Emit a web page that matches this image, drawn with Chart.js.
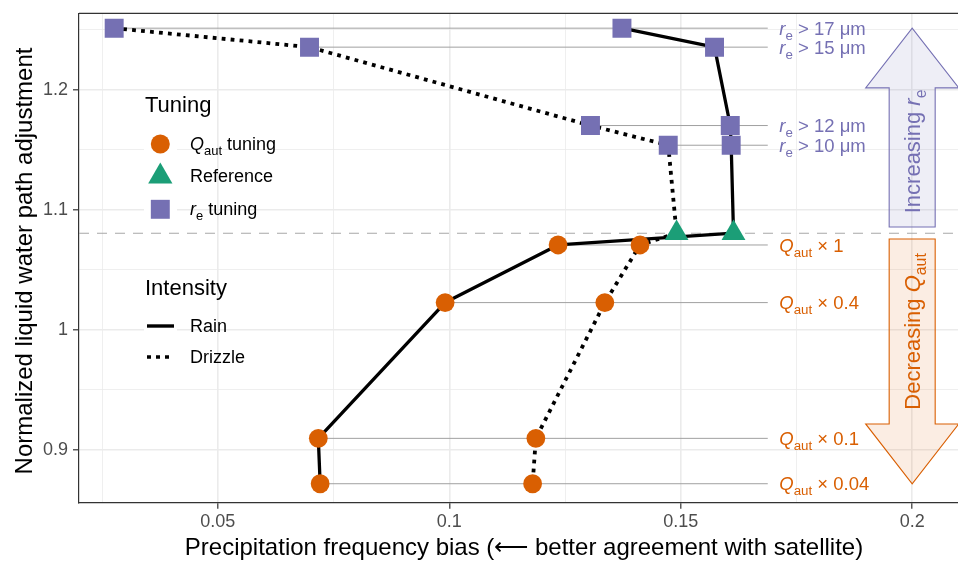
<!DOCTYPE html>
<html>
<head>
<meta charset="utf-8">
<title>Tuning: LWP adjustment vs precipitation frequency bias</title>
<script src="https://cdn.jsdelivr.net/npm/chart.js@4.4.1/dist/chart.umd.min.js"></script>
<style>
  html, body { margin: 0; padding: 0; background: #fff; }
  canvas { display: block; }
</style>
</head>
<body>
<canvas id="tuningChart" width="958" height="561"></canvas>
<script>
// values
// r_e tuning (squares), threshold in µm
const reThresholds = ["17", "15", "12", "10"];
const reY          = [1.2514, 1.2356, 1.1703, 1.1539];
const reRainX      = [0.1373, 0.1573, 0.1607, 0.1609];
const reDrizzleX   = [0.0276, 0.0698, 0.1305, 0.1473];

// Q_aut tuning (circles), multiplier
const qFactors     = ["1", "0.4", "0.1", "0.04"];
const qY           = [1.0708, 1.0228, 0.9097, 0.8719];
const qRainX       = [0.1235, 0.0991, 0.0717, 0.0721];
const qDrizzleX    = [0.1412, 0.1336, 0.1187, 0.1180];

// reference run (triangles)
const refY         = 1.0806;
const refRainX     = 0.1614;
const refDrizzleX  = 0.1491;

// axes
const xTickValues  = [0.05, 0.1, 0.15, 0.2];
const xTickLabels  = ["0.05", "0.1", "0.15", "0.2"];
const xMinorValues = [0.025, 0.075, 0.125, 0.175];
const yTickValues  = [0.9, 1.0, 1.1, 1.2];
const yTickLabels  = ["0.9", "1", "1.1", "1.2"];
const yMinorValues = [0.95, 1.05, 1.15, 1.25];

const PURPLE = '#7570B3';
const GREEN  = '#1B9E77';
const ORANGE = '#D95F02';
const FONT   = "'Liberation Sans', Arial, Helvetica, sans-serif";

Chart.defaults.font.family = FONT;

function pts(xs, ys) {
    return xs.map((x, i) => ({ x: x, y: ys[i] }));
}
function findIdx(v, list) {
    return list.findIndex(m => Math.abs(m - v) < 1e-9);
}

// the lines go top to bottom: r_e runs, reference, Q_aut runs
let rainPath = pts(reRainX, reY).concat([{ x: refRainX, y: refY }], pts(qRainX, qY));
let drizzlePath = pts(reDrizzleX, reY).concat([{ x: refDrizzleX, y: refY }], pts(qDrizzleX, qY));

// text with italic / subscript pieces: [text, 'i' | 's' | '']
function richWidth(ctx, parts, size) {
    let w = 0;
    parts.forEach(p => {
        let sub = p[1].includes('s');
        ctx.font = (p[1].includes('i') ? 'italic ' : '') + (sub ? size * 0.72 : size) + 'px ' + FONT;
        w += ctx.measureText(p[0]).width;
    });
    return w;
}
function drawRich(ctx, parts, x, y, size, color) {
    ctx.fillStyle = color;
    ctx.textAlign = 'left';
    ctx.textBaseline = 'alphabetic';
    let cx = x;
    let base = y + size * 0.36;
    parts.forEach(p => {
        let sub = p[1].includes('s');
        ctx.font = (p[1].includes('i') ? 'italic ' : '') + (sub ? size * 0.72 : size) + 'px ' + FONT;
        ctx.fillText(p[0], cx, base + (sub ? size * 0.27 : 0));
        cx += ctx.measureText(p[0]).width;
    });
}

function drawShape(ctx, style, x, y, r, color) {
    ctx.fillStyle = color;
    ctx.beginPath();
    if (style == 'circle') {
        ctx.arc(x, y, r, 0, Math.PI * 2);
    } else if (style == 'triangle') {
        ctx.moveTo(x, y - r);
        ctx.lineTo(x + r * Math.sin(Math.PI / 3), y + r / 2);
        ctx.lineTo(x - r * Math.sin(Math.PI / 3), y + r / 2);
        ctx.closePath();
    } else {
        let h = r * Math.SQRT1_2;
        ctx.rect(x - h, y - h, 2 * h, 2 * h);
    }
    ctx.fill();
}

function drawArrow(ctx, cx, tailY, baseY, tipY, stroke, fill) {
    let shaft = 23, head = 46.5;
    ctx.beginPath();
    ctx.moveTo(cx - shaft, tailY);
    ctx.lineTo(cx - shaft, baseY);
    ctx.lineTo(cx - head, baseY);
    ctx.lineTo(cx, tipY);
    ctx.lineTo(cx + head, baseY);
    ctx.lineTo(cx + shaft, baseY);
    ctx.lineTo(cx + shaft, tailY);
    ctx.closePath();
    ctx.fillStyle = fill;
    ctx.fill();
    ctx.strokeStyle = stroke;
    ctx.lineWidth = 1.1;
    ctx.stroke();
}

function hline(ctx, x1, x2, y) {
    ctx.beginPath();
    ctx.moveTo(x1, y);
    ctx.lineTo(x2, y);
    ctx.stroke();
}

const decorations = {
    id: 'decorations',
    beforeDatasetsDraw(chart) {
        const ctx = chart.ctx, a = chart.chartArea;
        const xs = chart.scales.x, ys = chart.scales.y;
        ctx.save();

        // dashed line through the reference run
        ctx.strokeStyle = '#A8A8A8';
        ctx.lineWidth = 1.1;
        ctx.setLineDash([10, 8]);
        hline(ctx, a.left, a.right, ys.getPixelForValue(refY));
        ctx.setLineDash([]);

        // thin guides out to the labels
        let lineEnd = xs.getPixelForValue(0.1688);
        ctx.strokeStyle = '#A0A0A0';
        ctx.lineWidth = 1;
        reY.forEach((v, i) => {
            hline(ctx, xs.getPixelForValue(Math.min(reRainX[i], reDrizzleX[i])), lineEnd, ys.getPixelForValue(v));
        });
        qY.forEach((v, i) => {
            hline(ctx, xs.getPixelForValue(Math.min(qRainX[i], qDrizzleX[i])), lineEnd, ys.getPixelForValue(v));
        });

        // big arrows on the right
        let ax = xs.getPixelForValue(0.2);
        let upTail = ys.getPixelForValue(1.0858), upBase = ys.getPixelForValue(1.2017), upTip = ys.getPixelForValue(reY[0]);
        drawArrow(ctx, ax, upTail, upBase, upTip, PURPLE, 'rgba(117,112,179,0.12)');
        let dnTail = ys.getPixelForValue(1.0758), dnBase = ys.getPixelForValue(0.9217), dnTip = ys.getPixelForValue(qY[3]);
        drawArrow(ctx, ax, dnTail, dnBase, dnTip, ORANGE, 'rgba(217,95,2,0.11)');

        let upText = [['Increasing ', ''], ['r', 'i'], ['e', 's']];
        let dnText = [['Decreasing ', ''], ['Q', 'i'], ['aut', 's']];
        [[upText, (upTail + upBase) / 2 - 6, PURPLE], [dnText, (dnTail + dnBase) / 2, ORANGE]].forEach(t => {
            ctx.save();
            ctx.translate(ax, t[1]);
            ctx.rotate(-Math.PI / 2);
            let w = richWidth(ctx, t[0], 22);
            drawRich(ctx, t[0], -w / 2, 0, 22, t[2]);
            ctx.restore();
        });
        ctx.restore();
    },
    afterDatasetsDraw(chart) {
        const ctx = chart.ctx, a = chart.chartArea;
        const xs = chart.scales.x, ys = chart.scales.y;
        ctx.save();

        // panel border top
        ctx.strokeStyle = '#333333';
        ctx.lineWidth = 1.2;
        hline(ctx, a.left, a.right, a.top);

        // labels beside the guides
        let lx = xs.getPixelForValue(0.1713);
        reY.forEach((v, i) => {
            drawRich(ctx, [['r', 'i'], ['e', 's'], [' > ' + reThresholds[i] + ' \u03BCm', '']], lx, ys.getPixelForValue(v), 18.5, PURPLE);
        });
        qY.forEach((v, i) => {
            drawRich(ctx, [['Q', 'i'], ['aut', 's'], [' \u00D7 ' + qFactors[i], '']], lx, ys.getPixelForValue(v), 18.5, ORANGE);
        });

        // legend
        ctx.fillStyle = '#000';
        ctx.font = '22px ' + FONT;
        ctx.textAlign = 'left';
        ctx.textBaseline = 'alphabetic';
        ctx.fillText('Tuning', 145, 112);
        ctx.fillText('Intensity', 145, 295);

        let keyX = 160.3;
        [144, 176, 209, 326, 357].forEach(k => {
            ctx.fillStyle = '#fff';
            ctx.fillRect(144, k - 16, 33, 32);
        });
        drawShape(ctx, 'circle', keyX, 144, 9.5, ORANGE);
        drawShape(ctx, 'triangle', keyX, 176.4, 14, GREEN);
        drawShape(ctx, 'rect', keyX, 209.3, 13.4, PURPLE);
        drawRich(ctx, [['Q', 'i'], ['aut', 's'], [' tuning', '']], 190, 144, 18, '#000');
        drawRich(ctx, [['Reference', '']], 190, 176, 18, '#000');
        drawRich(ctx, [['r', 'i'], ['e', 's'], [' tuning', '']], 190, 209, 18, '#000');

        ctx.strokeStyle = '#000';
        ctx.lineWidth = 3.4;
        hline(ctx, 147, 174, 326);
        ctx.setLineDash([4, 5]);
        hline(ctx, 147, 174, 357);
        ctx.setLineDash([]);
        drawRich(ctx, [['Rain', '']], 190, 326, 18, '#000');
        drawRich(ctx, [['Drizzle', '']], 190, 357, 18, '#000');

        // axis titles
        ctx.fillStyle = '#000';
        ctx.font = '24px ' + FONT;
        ctx.textAlign = 'center';
        ctx.textBaseline = 'alphabetic';
        ctx.fillText('Precipitation frequency bias (\u27F5 better agreement with satellite)', 524, 555);
        ctx.save();
        ctx.translate(31.7, 261);
        ctx.rotate(-Math.PI / 2);
        ctx.fillText('Normalized liquid water path adjustment', 0, 0);
        ctx.restore();

        ctx.restore();
    }
};

let ctx = document.getElementById('tuningChart').getContext('2d');

let myChart = new Chart(ctx, {
    type: 'scatter',
    data: {
        datasets: [{
            label: 'Q_aut tuning',
            data: pts(qRainX, qY).concat(pts(qDrizzleX, qY)),
            pointStyle: 'circle',
            pointRadius: 9.4,
            backgroundColor: ORANGE,
            borderWidth: 0,
            pointBorderWidth: 0,
            order: 0
        }, {
            label: 'Reference',
            data: [{ x: refRainX, y: refY }, { x: refDrizzleX, y: refY }],
            pointStyle: 'triangle',
            pointRadius: 13.8,
            backgroundColor: GREEN,
            borderWidth: 0,
            pointBorderWidth: 0,
            order: 0
        }, {
            label: 'r_e tuning',
            data: pts(reRainX, reY).concat(pts(reDrizzleX, reY)),
            pointStyle: 'rect',
            pointRadius: 13.4,
            backgroundColor: PURPLE,
            borderWidth: 0,
            pointBorderWidth: 0,
            order: 0
        }, {
            label: 'Rain',
            data: rainPath,
            showLine: true,
            pointRadius: 0,
            borderColor: '#000',
            borderWidth: 3.3,
            borderCapStyle: 'butt',
            borderJoinStyle: 'round',
            order: 1
        }, {
            label: 'Drizzle',
            data: drizzlePath,
            showLine: true,
            pointRadius: 0,
            borderColor: '#000',
            borderWidth: 3.8,
            borderDash: [3.8, 5.2],
            borderCapStyle: 'butt',
            borderJoinStyle: 'round',
            order: 1
        }]
    },
    options: {
        responsive: false,
        animation: false,
        devicePixelRatio: 1,
        layout: {
            autoPadding: false,
            padding: { top: 13.3, right: 0, bottom: 0, left: 0 }
        },
        plugins: {
            legend: { display: false },
            tooltip: { enabled: false }
        },
        scales: {
            x: {
                type: 'linear',
                min: 0.02,
                max: 0.2099,
                afterBuildTicks: s => {
                    s.ticks = xMinorValues.concat(xTickValues).sort((p, q) => p - q).map(v => ({ value: v }));
                },
                afterFit: s => {
                    s.height = 58.3;
                    s.paddingLeft = 0;
                    s.paddingRight = 0;
                },
                ticks: {
                    autoSkip: false,
                    maxRotation: 0,
                    padding: 3,
                    color: '#4D4D4D',
                    font: { size: 18 },
                    callback: v => {
                        let i = findIdx(v, xTickValues);
                        return i >= 0 ? xTickLabels[i] : '';
                    }
                },
                grid: {
                    color: '#EBEBEB',
                    lineWidth: c => (c.tick && findIdx(c.tick.value, xTickValues) >= 0) ? 1.6 : 0.8,
                    tickLength: 6,
                    tickWidth: 1.2,
                    tickColor: c => (c.tick && findIdx(c.tick.value, xTickValues) >= 0) ? '#333333' : 'rgba(0,0,0,0)'
                },
                border: { color: '#333333', width: 1.2 }
            },
            y: {
                type: 'linear',
                min: 0.8561,
                max: 1.2638,
                afterBuildTicks: s => {
                    s.ticks = yMinorValues.concat(yTickValues).sort((p, q) => p - q).map(v => ({ value: v }));
                },
                afterFit: s => {
                    s.width = 79;
                    s.paddingTop = 0;
                    s.paddingBottom = 0;
                },
                ticks: {
                    autoSkip: false,
                    padding: 5,
                    color: '#4D4D4D',
                    font: { size: 18 },
                    callback: v => {
                        let i = findIdx(v, yTickValues);
                        return i >= 0 ? yTickLabels[i] : '';
                    }
                },
                grid: {
                    color: '#EBEBEB',
                    lineWidth: c => (c.tick && findIdx(c.tick.value, yTickValues) >= 0) ? 1.6 : 0.8,
                    tickLength: 6,
                    tickWidth: 1.2,
                    tickColor: c => (c.tick && findIdx(c.tick.value, yTickValues) >= 0) ? '#333333' : 'rgba(0,0,0,0)'
                },
                border: { color: '#333333', width: 1.2 }
            }
        }
    },
    plugins: [decorations]
});
</script>
</body>
</html>
